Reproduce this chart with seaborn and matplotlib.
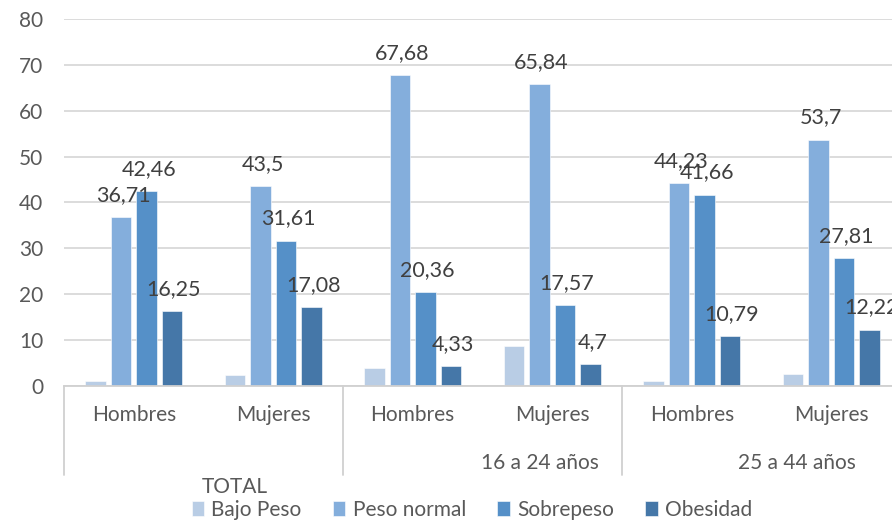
import matplotlib
matplotlib.use("Agg")
import matplotlib.pyplot as plt
import matplotlib.transforms as mtransforms
import seaborn as sns
import pandas as pd

# Data
keys = ["T_H", "T_M", "A_H", "A_M", "B_H", "B_M"]
sexo = ["Hombres", "Mujeres", "Hombres", "Mujeres", "Hombres", "Mujeres"]
series = ["Bajo Peso", "Peso normal", "Sobrepeso", "Obesidad"]
bajo_peso = [0.96, 2.4, 3.9, 8.67, 1.0, 2.5]
peso_normal = [36.71, 43.5, 67.68, 65.84, 44.23, 53.7]
sobrepeso = [42.46, 31.61, 20.36, 17.57, 41.66, 27.81]
obesidad = [16.25, 17.08, 4.33, 4.7, 10.79, 12.22]
grupos = ["TOTAL", "16 a 24 años", "25 a 44 años"]

colors = ["#B9CDE5", "#84AEDC", "#5590C8", "#4577A8"]

rows = []
for name, vals in zip(series, [bajo_peso, peso_normal, sobrepeso, obesidad]):
    for k, v in zip(keys, vals):
        rows.append({"key": k, "serie": name, "valor": v})
df = pd.DataFrame(rows)

sns.set_style("white")
plt.rcParams["font.family"] = ["Lato", "DejaVu Sans"]

fig = plt.figure(figsize=(8.92, 5.21), dpi=100)
ax = fig.add_axes([64 / 892, 1 - 385.7 / 521, 837 / 892, (385.7 - 19) / 521])

sns.barplot(data=df, x="key", y="valor", hue="serie", order=keys, hue_order=series,
            palette=colors, saturation=1, errorbar=None, width=0.73, gap=0.2,
            edgecolor="white", linewidth=0.4, ax=ax)

handles, labels = ax.get_legend_handles_labels()
ax.get_legend().remove()

ax.set_ylim(0, 80)
ax.set_xlim(-0.5, 5.5)
ax.set_yticks(range(0, 81, 10))
ax.yaxis.grid(True, color="#D9D9D9", linewidth=1.3)
ax.set_axisbelow(True)
for s in ["top", "right", "left"]:
    ax.spines[s].set_visible(False)
ax.spines["bottom"].set_color("#D0D0D0")
ax.spines["bottom"].set_linewidth(1.3)
ax.set_xticks(range(len(keys)))
ax.set_xticklabels(sexo)
ax.tick_params(axis="x", length=0, pad=14, labelsize=15, labelcolor="#595959")
ax.tick_params(axis="y", length=0, pad=15, labelsize=15, labelcolor="#595959")
ax.set_xlabel("")
ax.set_ylabel("")

# data labels (no labels for Bajo Peso)
all_vals = [bajo_peso, peso_normal, sobrepeso, obesidad]
for i, cont in enumerate(ax.containers):
    if i == 0:
        continue
    for bar, v in zip(cont, all_vals[i]):
        ax.annotate(str(v).replace(".", ","),
                    (bar.get_x() + bar.get_width() / 2, bar.get_height()),
                    xytext=(1.5, 16), textcoords="offset points",
                    ha="center", va="center", fontsize=15.5, color="#404040",
                    annotation_clip=False)

# group separators below the axis
trans = mtransforms.blended_transform_factory(ax.transData, ax.transAxes)
for xs in [-0.5, 1.5, 3.5, 5.5]:
    ax.plot([xs, xs], [0, -0.243], transform=trans, color="#D0D0D0",
            linewidth=1.3, clip_on=False)

# group labels
fig.text(540 / 892, 1 - 463 / 521, grupos[1], ha="center", va="center",
         fontsize=15, color="#595959")
fig.text(797 / 892, 1 - 463 / 521, grupos[2], ha="center", va="center",
         fontsize=15, color="#595959")
fig.text(235 / 892, 1 - 487 / 521, grupos[0], ha="center", va="center",
         fontsize=15, color="#595959")

fig.legend(handles, labels, loc="center", bbox_to_anchor=(472 / 892, 1 - 510 / 521),
           ncol=4, frameon=False, fontsize=15, handlelength=0.6, handleheight=0.7,
           handletextpad=0.35, columnspacing=1.5, labelcolor="#595959",
           borderaxespad=0, borderpad=0)

fig.savefig("out.png", dpi=100)
